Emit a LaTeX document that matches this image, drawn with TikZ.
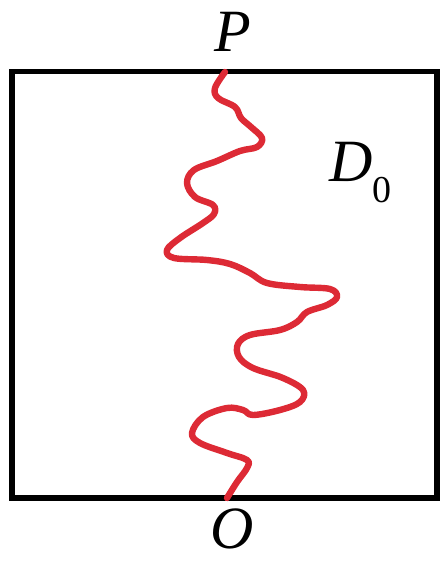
\documentclass[tikz,border=0pt]{standalone}
\usepackage{fontspec}
\setmainfont{Liberation Serif}
\usepackage{xcolor}
\usetikzlibrary{positioning,calc}
\definecolor{pathred}{HTML}{DD2A35}

\begin{document}
\begin{tikzpicture}[
        x=0.5pt, y=-0.5pt,
        frame/.style={draw=black, line width=2.8pt},
        walk/.style={draw=pathred, line width=3.2pt, line cap=round, line join=round},
        lbl/.style={inner sep=0pt, font=\fontsize{30}{32}\selectfont\itshape}
    ]
    \useasboundingbox (0,0) rectangle (439,561);
    \draw[frame] (12,71.5) rectangle (437,498);
    \coordinate (top) at (225,72);
    \coordinate (bot) at (227,498);
    \node[lbl, anchor=base] (p) at (233,52) {P};
    \node[lbl, anchor=base] (o) at (232,548) {O};
    \node[lbl, anchor=base west] (d) at (329,182) {D\raisebox{-10.5pt}{\fontsize{19}{20}\selectfont\upshape 0}};
    % the curve from P down to O
    \draw[walk] plot[smooth, tension=0.6] coordinates {
        (top) (215,88) (218,98) (235,107) (241,118) (251,127) (262,138)
        (257,147) (240,151) (217,161) (194,170) (187,183) (195,197)
        (213,205) (214,214) (203,223) (180,238) (167,250) (174,258)
        (207,260) (230,264) (250,273) (267,283) (300,287) (330,289)
        (337,297) (327,305) (307,312) (297,322) (280,330) (250,335)
        (238,344) (239,357) (253,368) (283,378) (303,390) (300,402)
        (280,410) (253,415) (243,410) (227,408) (203,417) (192,433)
        (200,443) (227,453) (247,460) (247,468) (237,482) (bot)};
\end{tikzpicture}
\end{document}
